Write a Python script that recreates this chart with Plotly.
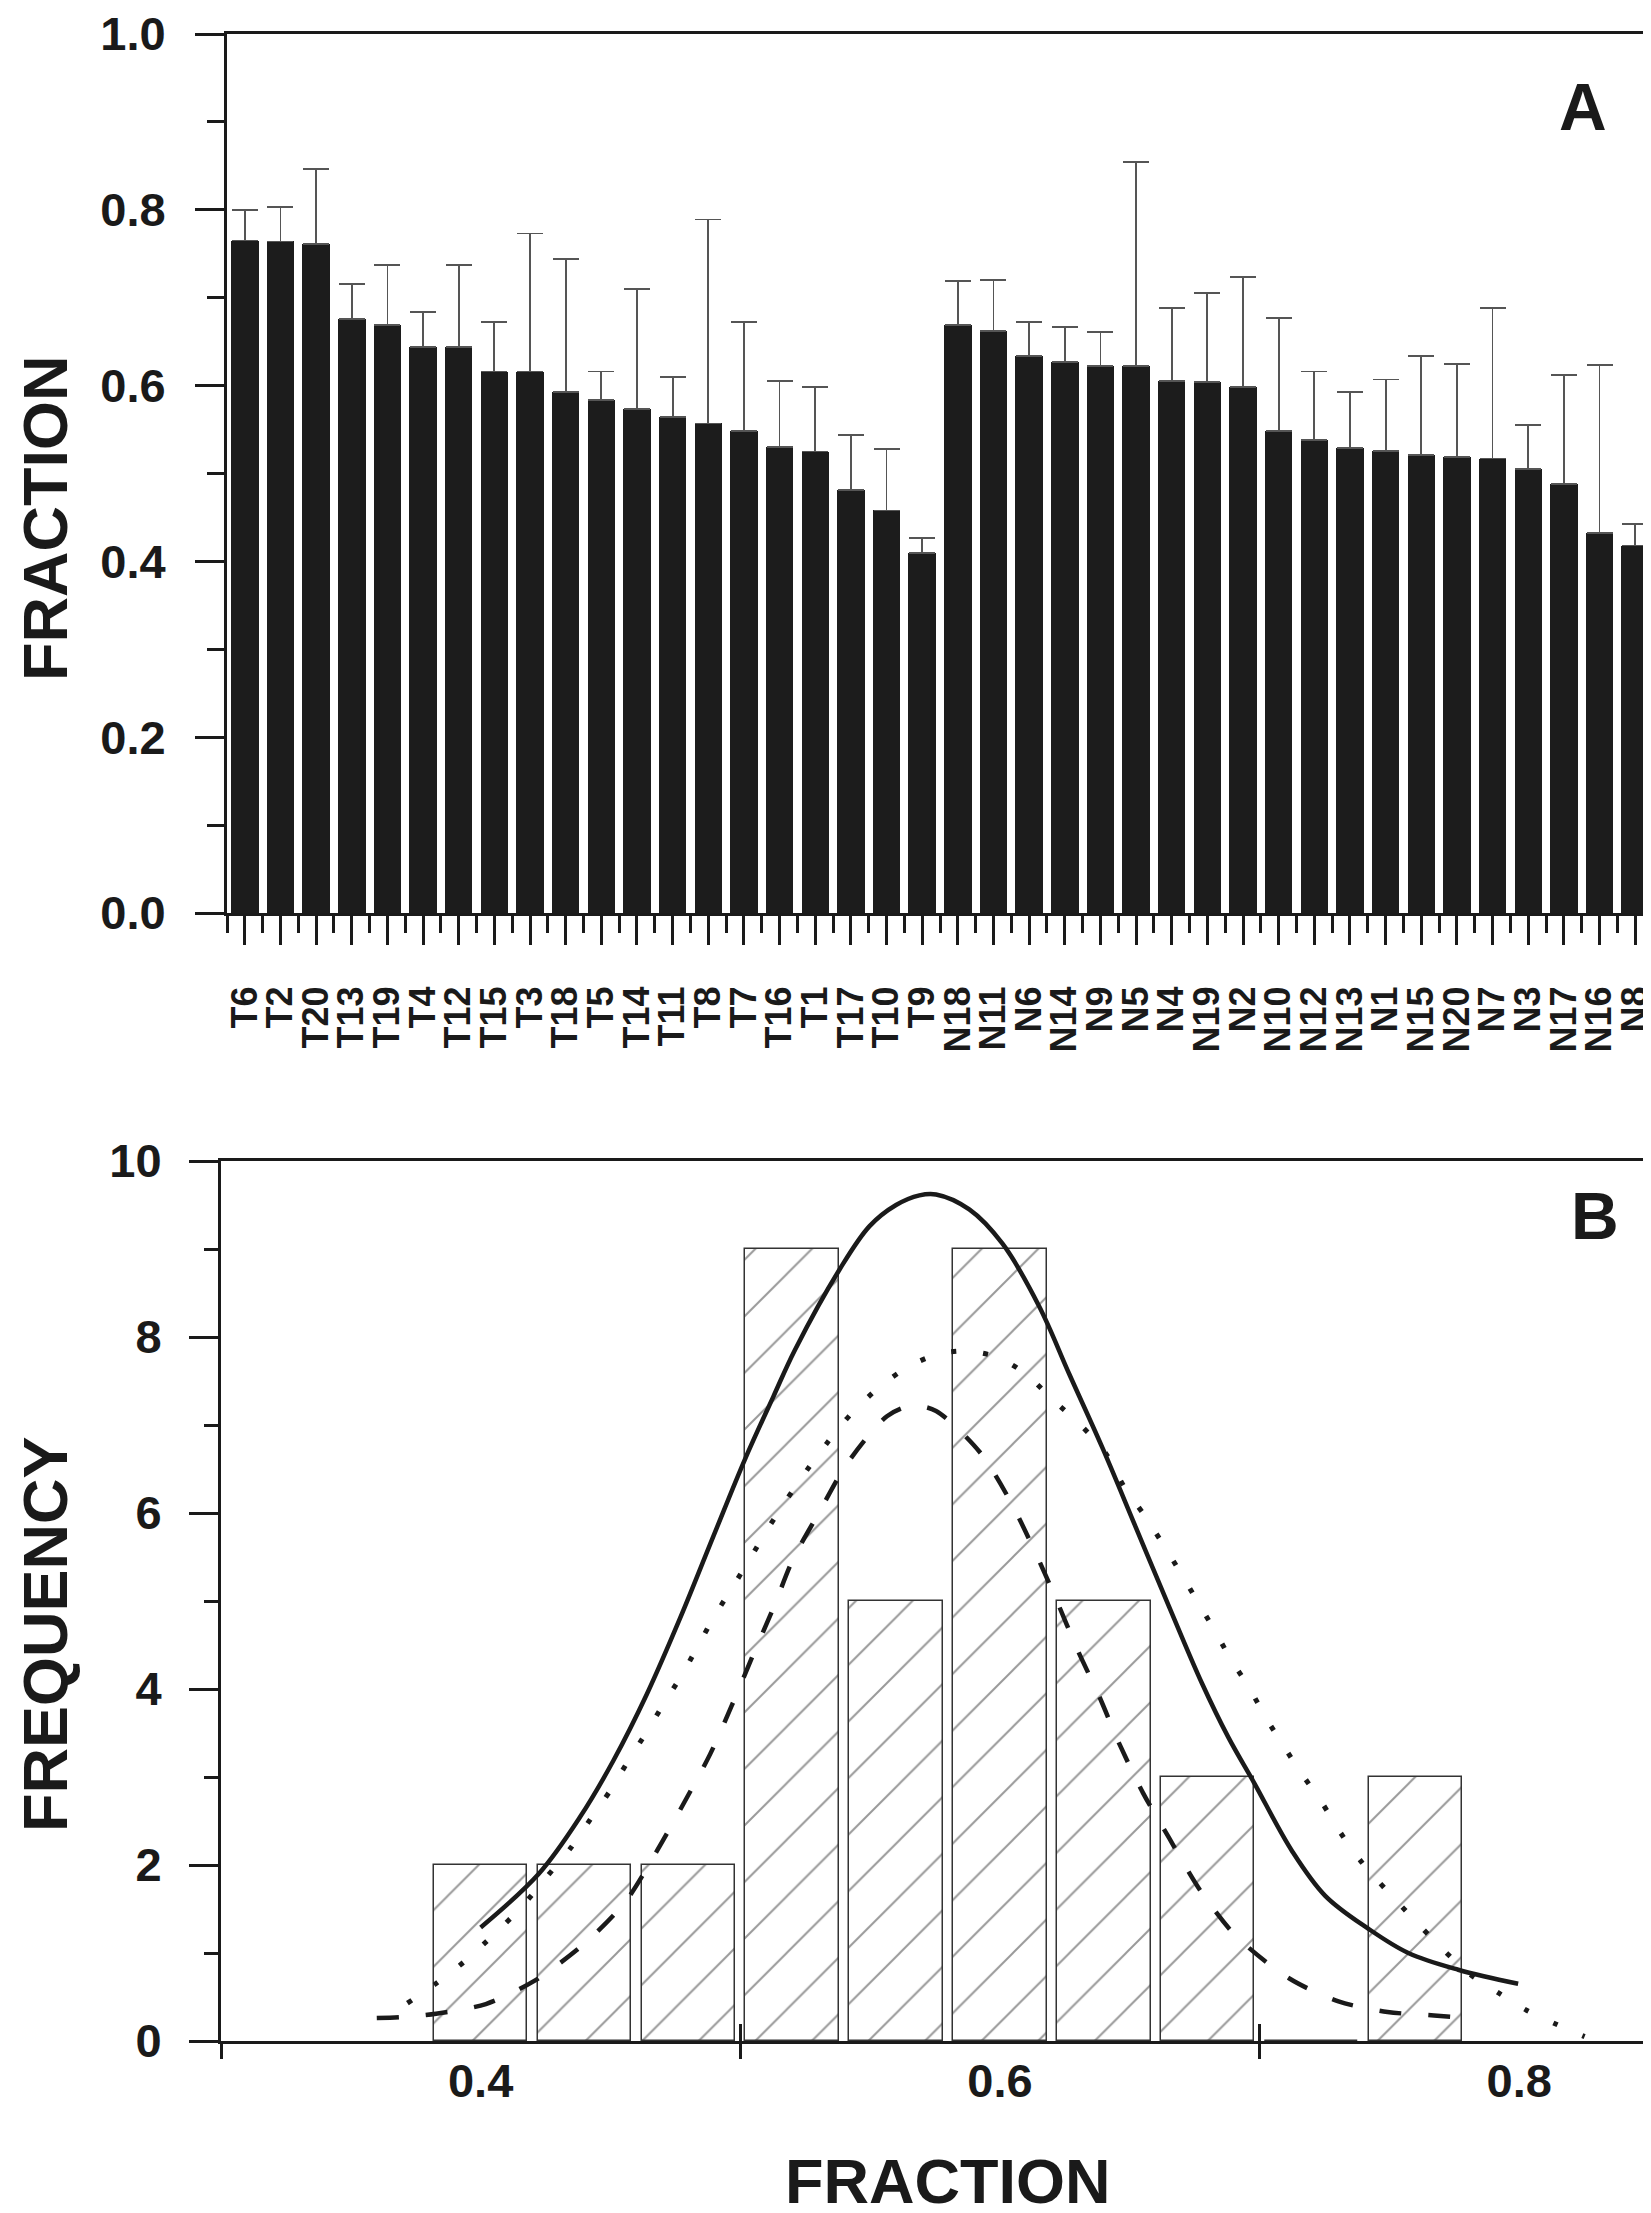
import plotly.graph_objects as go

# ---------------- data: panel A ----------------
samples = ["T6", "T2", "T20", "T13", "T19", "T4", "T12", "T15", "T3", "T18",
           "T5", "T14", "T11", "T8", "T7", "T16", "T1", "T17", "T10", "T9",
           "N18", "N11", "N6", "N14", "N9", "N5", "N4", "N19", "N2", "N10",
           "N12", "N13", "N1", "N15", "N20", "N7", "N3", "N17", "N16", "N8"]
fraction_mean = [0.765, 0.764, 0.761, 0.676, 0.669, 0.644, 0.644, 0.616, 0.616, 0.593,
                 0.584, 0.573, 0.564, 0.557, 0.548, 0.530, 0.525, 0.481, 0.458, 0.410,
                 0.669, 0.662, 0.634, 0.627, 0.622, 0.622, 0.605, 0.604, 0.598, 0.548,
                 0.538, 0.529, 0.526, 0.521, 0.519, 0.517, 0.505, 0.488, 0.432, 0.418]
fraction_err = [0.035, 0.039, 0.085, 0.040, 0.068, 0.040, 0.093, 0.056, 0.157, 0.151,
                0.032, 0.137, 0.046, 0.232, 0.124, 0.075, 0.073, 0.063, 0.070, 0.017,
                0.050, 0.058, 0.038, 0.040, 0.039, 0.232, 0.083, 0.101, 0.126, 0.129,
                0.078, 0.064, 0.081, 0.113, 0.106, 0.171, 0.050, 0.124, 0.191, 0.025]
y_ticks_a = [0.0, 0.2, 0.4, 0.6, 0.8, 1.0]
y_ticklabels_a = ["0.0", "0.2", "0.4", "0.6", "0.8", "1.0"]

# ---------------- data: panel B ----------------
bin_centers = [0.40, 0.44, 0.48, 0.52, 0.56, 0.60, 0.64, 0.68, 0.72, 0.76]
bin_counts = [2, 2, 2, 9, 5, 9, 5, 3, 0, 3]
bin_width = 0.036

solid_x = [0.400, 0.4224, 0.4384, 0.4512, 0.464, 0.4769, 0.4897, 0.5018, 0.5127,
           0.521, 0.5383, 0.5498, 0.560, 0.569, 0.5754, 0.5882, 0.601, 0.6151,
           0.6267, 0.6395, 0.6523, 0.6651, 0.6779, 0.688, 0.6978, 0.7125, 0.7253, 0.7417,
           0.7573, 0.7765, 0.7996]
solid_y = [1.29, 1.90, 2.55, 3.19, 3.94, 4.81, 5.74, 6.61, 7.32,
           7.85, 8.77, 9.26, 9.50, 9.61, 9.62, 9.45, 9.06, 8.35,
           7.58, 6.74, 5.84, 4.94, 4.06, 3.45, 2.94, 2.16, 1.65, 1.28,
           1.00, 0.81, 0.65]

dot_x = [0.3718, 0.3827, 0.3936, 0.4051, 0.4160, 0.4256, 0.4346, 0.4423, 0.4500, 0.4570,
         0.4641, 0.4707, 0.4775, 0.4839, 0.4903, 0.4971, 0.5037, 0.5108, 0.5178, 0.5255,
         0.5338, 0.5428, 0.5543, 0.5658, 0.5767, 0.5876, 0.5991, 0.6100, 0.6202, 0.6311,
         0.6407, 0.6478, 0.6555, 0.6625, 0.6696, 0.6760, 0.6824, 0.6887, 0.6959, 0.7023,
         0.7093, 0.7164, 0.7240, 0.7311, 0.7394, 0.7490, 0.7592, 0.7699, 0.7810, 0.7919,
         0.8028, 0.8143, 0.8252]
dot_y = [0.43, 0.65, 0.90, 1.21, 1.53, 1.87, 2.19, 2.52, 2.85, 3.19,
         3.52, 3.84, 4.16, 4.50, 4.84, 5.16, 5.48, 5.83, 6.15, 6.48,
         6.81, 7.13, 7.45, 7.68, 7.81, 7.84, 7.77, 7.58, 7.29, 7.00,
         6.68, 6.30, 5.98, 5.66, 5.32, 5.00, 4.68, 4.35, 4.02, 3.68,
         3.35, 3.03, 2.71, 2.37, 2.03, 1.71, 1.39, 1.06, 0.76, 0.55,
         0.35, 0.19, 0.05]

dash_x = [0.3600, 0.3690, 0.3828, 0.4020, 0.4205, 0.4397, 0.4557, 0.4679, 0.4784, 0.4884,
          0.4967, 0.5044, 0.5130, 0.5204, 0.5306, 0.5411, 0.5565, 0.5660, 0.5754, 0.5923,
          0.6039, 0.6132, 0.6215, 0.6298, 0.6382, 0.6461, 0.6551, 0.6651, 0.6772, 0.6910,
          0.7115, 0.7304, 0.7493, 0.7672, 0.7760]
dash_y = [0.26, 0.27, 0.31, 0.42, 0.68, 1.10, 1.58, 2.16, 2.71, 3.26,
          3.81, 4.35, 4.94, 5.48, 6.02, 6.56, 7.10, 7.22, 7.16, 6.69,
          6.14, 5.58, 5.03, 4.45, 3.92, 3.37, 2.82, 2.31, 1.71, 1.19,
          0.71, 0.45, 0.33, 0.29, 0.27]

x_ticks_b = [0.4, 0.6, 0.8]
x_ticklabels_b = ["0.4", "0.6", "0.8"]
x_marks_b = [0.3, 0.5, 0.7]
y_ticks_b = [0, 2, 4, 6, 8, 10]
y_ticklabels_b = ["0", "2", "4", "6", "8", "10"]

# ---------------- styling ----------------
INK = "#1a1a1a"
FONT = "Liberation Sans, Arial, sans-serif"
W, H = 1651, 2213

fig = go.Figure()

positions = list(range(len(samples)))
fig.add_trace(go.Bar(
    x=positions, y=fraction_mean, width=0.77,
    marker=dict(color="#1c1c1c", line=dict(width=0)),
    error_y=dict(type="data", symmetric=False, array=fraction_err,
                 arrayminus=[0] * len(fraction_err),
                 color="#555555", thickness=1.8, width=13),
    xaxis="x", yaxis="y", showlegend=False,
))

fig.add_trace(go.Bar(
    x=bin_centers, y=bin_counts, width=bin_width,
    marker=dict(color="white", line=dict(color="#333333", width=1.5),
                pattern=dict(shape="/", fgcolor="#333333", bgcolor="white",
                             size=40, solidity=0.05)),
    xaxis="x2", yaxis="y2", showlegend=False,
))
fig.add_trace(go.Scatter(x=solid_x, y=solid_y, mode="lines",
                         line=dict(color=INK, width=4.5, shape="spline", smoothing=1.0),
                         xaxis="x2", yaxis="y2", showlegend=False))
fig.add_trace(go.Scatter(x=dot_x, y=dot_y, mode="lines",
                         line=dict(color=INK, width=5, dash="5px,27px", shape="spline", smoothing=0.8),
                         xaxis="x2", yaxis="y2", showlegend=False))
fig.add_trace(go.Scatter(x=dash_x, y=dash_y, mode="lines",
                         line=dict(color=INK, width=4.5, dash="22px,27px", shape="spline", smoothing=0.8),
                         xaxis="x2", yaxis="y2", showlegend=False))
# invisible carriers so the tick-only overlay axes are always drawn
for ax in ("x3", "x4"):
    fig.add_trace(go.Scatter(x=bin_centers, y=bin_counts, mode="markers",
                             marker=dict(opacity=0), hoverinfo="skip",
                             xaxis=ax, yaxis="y2", showlegend=False))

top_x = [219 / W, 1645 / W]
top_y = [1 - 905 / H, 1 - 26 / H]
bot_x = [213 / W, 1641 / W]
bot_y = [1 - 2033 / H, 1 - 1153 / H]

common_line = dict(showline=True, linewidth=3, linecolor=INK, mirror=True,
                   showgrid=False, zeroline=False, tickwidth=3, tickcolor=INK,
                   ticklabeloverflow="allow")
tick_font = dict(family=FONT, size=47, color=INK, weight="bold")

fig.update_layout(
    width=W, height=H, margin=dict(l=0, r=0, t=0, b=0, pad=0, autoexpand=False),
    paper_bgcolor="white", plot_bgcolor="white", showlegend=False,
    bargap=0,
    xaxis=dict(domain=top_x, anchor="y", range=[-0.5, len(samples) - 0.5],
               tickmode="array", tickvals=positions, ticktext=samples,
               tickangle=-90, ticks="outside", ticklen=29,
               tickfont=dict(family=FONT, size=36, color=INK, weight="bold"),
               ticklabelstandoff=27,
               minor=dict(tickmode="array",
                          tickvals=[p - 0.5 for p in positions] + [len(samples) - 0.5],
                          ticks="outside", ticklen=17, tickwidth=3, tickcolor=INK),
               **common_line),
    yaxis=dict(domain=top_y, anchor="x", range=[0, 1],
               tickmode="array", tickvals=y_ticks_a, ticktext=y_ticklabels_a,
               ticks="outside", ticklen=29, tickfont=tick_font, ticklabelstandoff=20,
               minor=dict(tickmode="array", tickvals=[0.1, 0.3, 0.5, 0.7, 0.9],
                          ticks="outside", ticklen=17, tickwidth=3, tickcolor=INK),
               **common_line),
    xaxis2=dict(domain=bot_x, anchor="y2", range=[0.3, 0.85],
                tickmode="array", tickvals=x_ticks_b, ticktext=x_ticklabels_b,
                tickfont=tick_font, ticklabelstandoff=-20,
                **{**common_line, "tickcolor": "rgba(0,0,0,0)"},
                ticks="outside", ticklen=17),
    xaxis3=dict(overlaying="x2", anchor="y2", range=[0.3, 0.85],
                tickmode="array", tickvals=x_marks_b, ticks="outside", ticklen=17,
                tickwidth=3, tickcolor=INK, showticklabels=False,
                showline=False, showgrid=False, zeroline=False),
    xaxis4=dict(overlaying="x2", anchor="y2", range=[0.3, 0.85],
                tickmode="array", tickvals=x_marks_b, ticks="inside", ticklen=17,
                tickwidth=3, tickcolor=INK, showticklabels=False,
                showline=False, showgrid=False, zeroline=False),
    yaxis2=dict(domain=bot_y, anchor="x2", range=[0, 10],
                tickmode="array", tickvals=y_ticks_b, ticktext=y_ticklabels_b,
                ticks="outside", ticklen=29, tickfont=tick_font, ticklabelstandoff=18,
                minor=dict(tickmode="array", tickvals=[1, 3, 5, 7, 9],
                           ticks="outside", ticklen=14, tickwidth=3, tickcolor=INK),
                **common_line),
)

title_font = dict(family=FONT, size=63, color=INK, weight="bold")
fig.add_annotation(text="FRACTION", x=37 / W, y=1 - 511 / H, xref="paper", yref="paper",
                   textangle=-90, showarrow=False, font=title_font,
                   xanchor="center", yanchor="middle")
fig.add_annotation(text="FREQUENCY", x=37 / W, y=1 - 1626 / H, xref="paper", yref="paper",
                   textangle=-90, showarrow=False, font=title_font,
                   xanchor="center", yanchor="middle")
fig.add_annotation(text="FRACTION", x=939 / W, y=1 - 2173 / H, xref="paper", yref="paper",
                   showarrow=False, font=title_font, xanchor="center", yanchor="middle")
fig.add_annotation(text="A", x=1575 / W, y=1 - 99 / H, xref="paper", yref="paper",
                   showarrow=False, font=dict(family=FONT, size=66, color=INK, weight="bold"),
                   xanchor="center", yanchor="middle")
fig.add_annotation(text="B", x=1587 / W, y=1 - 1208 / H, xref="paper", yref="paper",
                   showarrow=False, font=dict(family=FONT, size=66, color=INK, weight="bold"),
                   xanchor="center", yanchor="middle")

fig.write_html("out.html")
